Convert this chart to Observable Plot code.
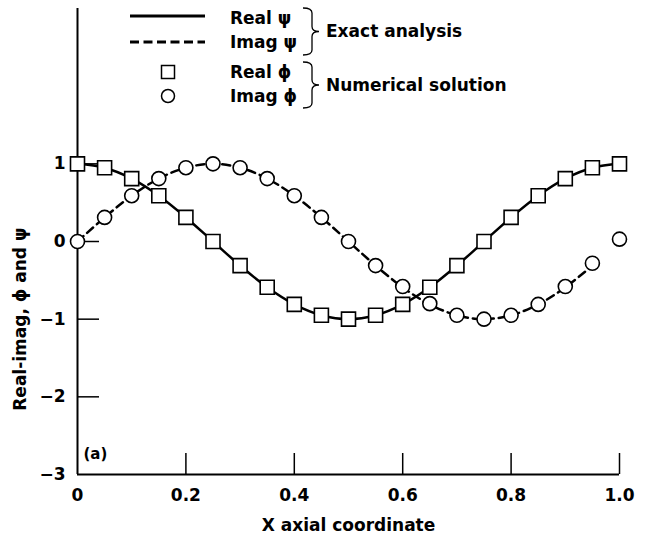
<!DOCTYPE html>
<html><head><meta charset="utf-8">
<script src="https://cdn.jsdelivr.net/npm/d3@7"></script>
<script src="https://cdn.jsdelivr.net/npm/@observablehq/plot@0.6"></script>
<style>
body{margin:0;background:#fff;}
#wrap{position:relative;width:650px;height:537px;font-family:"DejaVu Sans",sans-serif;font-weight:bold;}
</style></head><body><div id="wrap"></div>
<script>
// ---- data ----
const xs = [0, 0.05, 0.1, 0.15, 0.2, 0.25, 0.3, 0.35, 0.4, 0.45, 0.5, 0.55, 0.6, 0.65, 0.7, 0.75, 0.8, 0.85, 0.9, 0.95, 1.0];
// Numerical solution (markers)
const realPhi = [1, 0.95, 0.81, 0.59, 0.31, 0, -0.31, -0.59, -0.81, -0.95, -1, -0.95, -0.81, -0.59, -0.31, 0, 0.31, 0.59, 0.81, 0.95, 1];
const imagPhi = [0, 0.31, 0.59, 0.81, 0.95, 1, 0.95, 0.81, 0.59, 0.31, 0, -0.31, -0.58, -0.8, -0.95, -1, -0.95, -0.81, -0.58, -0.28, 0.03];
// Exact analysis (curves)
const realPsi = [1, 0.95, 0.81, 0.59, 0.31, 0, -0.31, -0.59, -0.81, -0.95, -1, -0.95, -0.81, -0.59, -0.31, 0, 0.31, 0.59, 0.81, 0.95, 1];
const imagPsi = [0, 0.31, 0.59, 0.81, 0.95, 1, 0.95, 0.81, 0.59, 0.31, 0, -0.31, -0.59, -0.81, -0.95, -1, -0.95, -0.81, -0.59, -0.31];
// ticks
const xTicks = [0, 0.2, 0.4, 0.6, 0.8, 1.0];
const xTickLabels = ["0", "0.2", "0.4", "0.6", "0.8", "1.0"];
const yTicks = [-3, -2, -1, 0, 1];
const yTickLabels = ["\u22123", "\u22122", "\u22121", "0", "1"];
const xLabel = "X axial coordinate";
const yLabel = "Real-imag, \u03D5 and \u03C8";
const panelLabel = "(a)";
const legendLines = [{label: "Real \u03C8", dash: null}, {label: "Imag \u03C8", dash: "9,4.5"}];
const legendSymbols = [{label: "Real \u03D5", symbol: "square"}, {label: "Imag \u03D5", symbol: "circle"}];
const legendGroups = ["Exact analysis", "Numerical solution"];

const numerical = xs.map((x, i) => ({x, real: realPhi[i], imag: imagPhi[i]}));
const exactReal = realPsi.map((v, i) => ({x: xs[i], v}));
const exactImag = imagPsi.map((v, i) => ({x: xs[i], v}));
const yLabelDatum = [{label: yLabel, y: d3.mean(yTicks)}];

const font = "'DejaVu Sans', 'Liberation Sans', Arial, sans-serif";
const fs = 17;
const dash = "8,5";

const chart = Plot.plot({
  width: 650, height: 537,
  marginLeft: 77, marginRight: 31, marginTop: 8, marginBottom: 63,
  x: {domain: [0, 1]},
  y: {domain: [-3, 3]},
  style: {fontFamily: font, fontWeight: "bold", fontSize: fs + "px", color: "black", background: "white", overflow: "visible"},
  marks: [
    Plot.ruleX([0], {strokeWidth: 2}),
    Plot.ruleY([-3], {strokeWidth: 2}),
    Plot.axisY({ticks: yTicks, tickSize: 0, tickPadding: 12, tickFormat: d => yTickLabels[yTicks.indexOf(d)], label: null, fontSize: fs}),
    Plot.axisY({ticks: yTicks.filter(d => d !== -3), tickSize: -22, fill: "none", label: null, strokeWidth: 1.5}),
    Plot.axisX({ticks: xTicks, tickSize: 0, tickPadding: 14, tickFormat: d => xTickLabels[xTicks.indexOf(d)], label: xLabel, labelAnchor: "center", labelArrow: "none", labelOffset: 56, fontSize: fs}),
    Plot.axisX({ticks: xTicks.filter(d => d !== 0), tickSize: -21, fill: "none", label: null, strokeWidth: 1.5}),
    Plot.line(exactReal, {x: "x", y: "v", strokeWidth: 2.5, curve: "catmull-rom"}),
    Plot.line(exactImag, {x: "x", y: "v", strokeWidth: 2.5, strokeDasharray: dash, curve: "catmull-rom"}),
    Plot.dot(numerical, {x: "x", y: "real", symbol: "square", r: 7.9, fill: "white", stroke: "black", strokeWidth: 1.6}),
    Plot.dot(numerical, {x: "x", y: "imag", symbol: "circle", r: 7, fill: "white", stroke: "black", strokeWidth: 1.6}),
    Plot.text([panelLabel], {frameAnchor: "bottom-left", dx: 6, dy: -16, textAnchor: "start", fontSize: 15, fontWeight: "bold"}),
    Plot.text(yLabelDatum, {y: "y", text: "label", frameAnchor: "left", textAnchor: "middle", dx: -57, rotate: -90, fontSize: fs, fontWeight: "bold"})
  ]
});
const wrap = document.getElementById("wrap");
wrap.appendChild(chart);

// ---- legend overlay ----
const leg = d3.select(wrap).append("svg")
  .attr("width", 650).attr("height", 120)
  .style("position", "absolute").style("left", "0px").style("top", "0px")
  .attr("font-family", font).attr("font-weight", "bold").attr("font-size", fs);
const lineRows = [16, 42];
const lineText = [18, 42];
legendLines.forEach((d, i) => {
  leg.append("line").attr("x1", 130).attr("x2", 205).attr("y1", lineRows[i]).attr("y2", lineRows[i])
    .attr("stroke", "black").attr("stroke-width", 3).attr("stroke-dasharray", d.dash);
  leg.append("text").attr("x", 230).attr("y", lineText[i]).attr("dy", "0.35em").text(d.label);
});
const symRows = [72, 96];
legendSymbols.forEach((d, i) => {
  if (d.symbol === "square") {
    leg.append("rect").attr("x", 168 - 6.5).attr("y", symRows[i] - 6.5).attr("width", 13).attr("height", 13)
      .attr("fill", "white").attr("stroke", "black").attr("stroke-width", 1.5);
  } else {
    leg.append("circle").attr("cx", 168).attr("cy", symRows[i]).attr("r", 6.5)
      .attr("fill", "white").attr("stroke", "black").attr("stroke-width", 1.5);
  }
  leg.append("text").attr("x", 230).attr("y", symRows[i]).attr("dy", "0.35em").text(d.label);
});
function brace(y0, y1, x0, x1, xt) {
  const ym = (y0 + y1) / 2, r = 5;
  return `M${x0},${y0} Q${x1},${y0} ${x1},${y0 + r} L${x1},${ym - r} Q${x1},${ym} ${xt},${ym} Q${x1},${ym} ${x1},${ym + r} L${x1},${y1 - r} Q${x1},${y1} ${x0},${y1}`;
}
const braces = [[8, 55], [62, 108]];
braces.forEach((b, i) => {
  leg.append("path").attr("d", brace(b[0], b[1], 303, 312, 319)).attr("fill", "none").attr("stroke", "black").attr("stroke-width", 1.3);
  leg.append("text").attr("x", 326).attr("y", (b[0] + b[1]) / 2).attr("dy", "0.35em").text(legendGroups[i]);
});
</script>
</body></html>
